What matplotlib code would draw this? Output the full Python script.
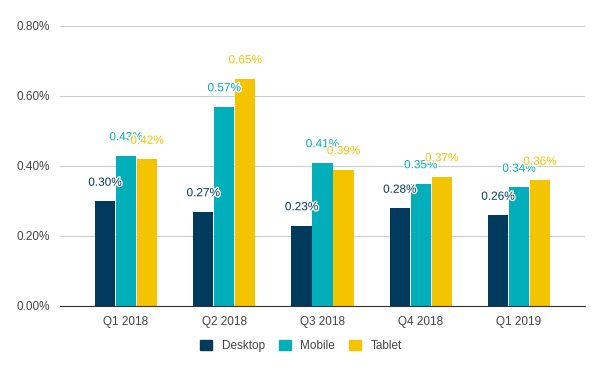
import matplotlib
matplotlib.use("Agg")
import matplotlib.pyplot as plt
import matplotlib.patheffects as pe
from matplotlib.patches import Patch
import numpy as np

plt.rcParams["font.family"] = ["Liberation Sans", "DejaVu Sans"]

quarters = ["Q1 2018", "Q2 2018", "Q3 2018", "Q4 2018", "Q1 2019"]
desktop = [0.30, 0.27, 0.23, 0.28, 0.26]
mobile = [0.43, 0.57, 0.41, 0.35, 0.34]
tablet = [0.42, 0.65, 0.39, 0.37, 0.36]

series = [
    ("Desktop", desktop, "#003a5c"),
    ("Mobile", mobile, "#00afb9"),
    ("Tablet", tablet, "#f5c400"),
]

fig = plt.figure(figsize=(6.04, 3.71), dpi=100)
ax = fig.add_axes([60 / 604, 1 - 306 / 371, 525 / 604, 280 / 371])

x = np.arange(len(quarters))
width = 0.205
step = 0.214

for i, (name, vals, color) in enumerate(series):
    pos = x + (i - 1) * step
    ax.bar(pos, vals, width=width, color=color, zorder=3)
    for px, v in zip(pos, vals):
        ax.text(px, v + 0.035, f"{v:.2f}%", ha="center", va="bottom",
                fontsize=8.5, color=color, zorder=4,
                path_effects=[pe.withStroke(linewidth=2, foreground="white")])

ax.set_xlim(-0.672, len(quarters) - 1 + 0.672)
ax.set_ylim(0, 0.8)
ax.set_yticks([0, 0.2, 0.4, 0.6, 0.8])
ax.set_yticklabels([f"{t:.2f}%" for t in [0, 0.2, 0.4, 0.6, 0.8]])
ax.set_xticks(x)
ax.set_xticklabels(quarters)
ax.tick_params(axis="both", length=0, labelsize=8.5, labelcolor="#444444")
ax.tick_params(axis="y", pad=7)
ax.tick_params(axis="x", pad=7)

ax.grid(axis="y", color="#cccccc", linewidth=0.8, zorder=0)
for s in ["top", "right", "left"]:
    ax.spines[s].set_visible(False)
ax.spines["bottom"].set_color("#333333")
ax.spines["bottom"].set_zorder(5)

handles = [Patch(color=c, label=n) for n, _, c in series]
fig.legend(handles=handles, loc="center", bbox_to_anchor=(301 / 604, 1 - 346 / 371),
           ncol=3, frameon=False, fontsize=8.5, handlelength=1.0, handleheight=1.0,
           columnspacing=1.2, handletextpad=0.8, labelcolor="#444444")

fig.savefig("out.png", dpi=100)
